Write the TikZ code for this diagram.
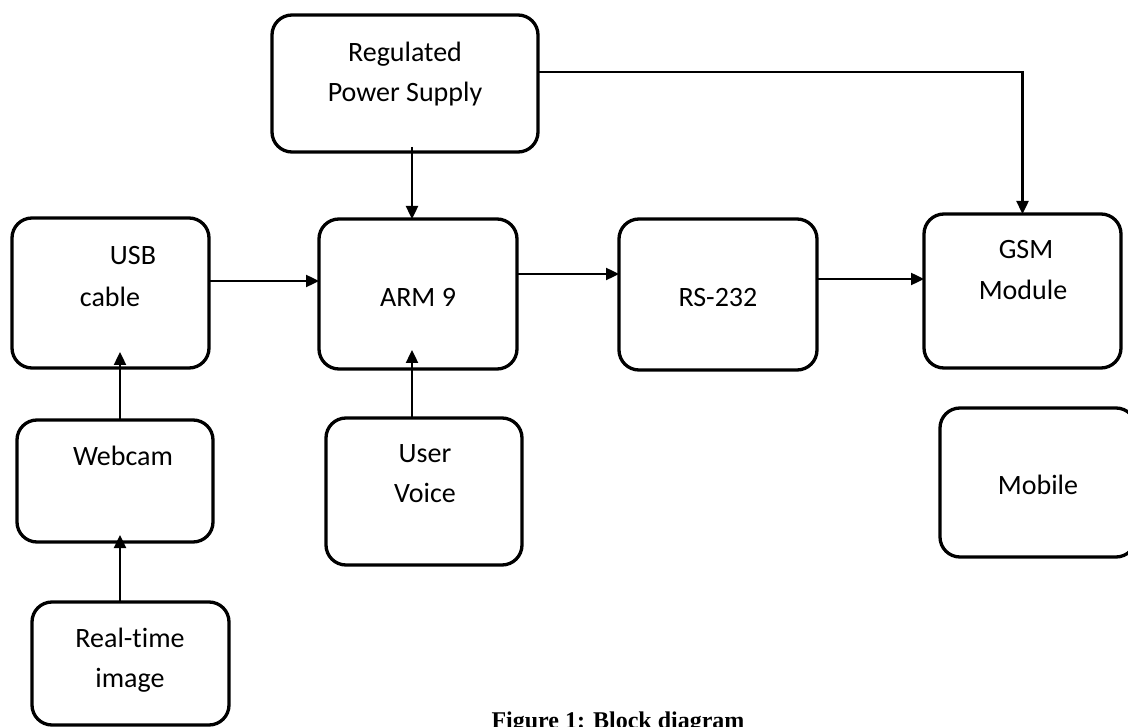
\documentclass[tikz,border=0pt]{standalone}
\usepackage{fontspec}
\setmainfont{Carlito}[Ligatures=NoCommon]
\newfontfamily\capfont{Liberation Serif}
\usetikzlibrary{arrows.meta,calc}
\tikzset{
  blk/.style={draw, line width=3.3pt, rounded corners=20pt, inner sep=0pt, outer sep=0pt},
  lbl/.style={anchor=base, inner sep=0pt, font=\fontsize{28}{34}\selectfont},
  arr/.style={line width=2.4pt, -{Triangle[length=13pt,width=12pt]}},
}
\begin{document}
\begin{tikzpicture}[x=1pt,y=-1pt]
\useasboundingbox (0,0) rectangle (1128,727);
\clip (0,0) rectangle (1128,727);
% boxes
\node[blk, minimum width=266pt, minimum height=137pt] (rps) at (405,83.5) {};
\node[blk, minimum width=198pt, minimum height=150pt] (arm) at (418,294) {};
\node[blk, minimum width=198pt, minimum height=151pt] (rs) at (718,294.5) {};
\node[blk, minimum width=197pt, minimum height=154pt] (gsm) at (1022.5,291) {};
\node[blk, minimum width=197pt, minimum height=150pt] (usb) at (110.5,293) {};
\node[blk, minimum width=196pt, minimum height=122pt] (cam) at (115,481) {};
\node[blk, minimum width=196pt, minimum height=147pt] (uv) at (424,491.5) {};
\node[blk, minimum width=196pt, minimum height=149pt] (mob) at (1038,482.5) {};
\node[blk, minimum width=197pt, minimum height=123pt] (rti) at (130.5,663.5) {};
% labels
\node[lbl] (t1) at (405,62) {Regulated};
\node[lbl] (t2) at (405,102) {Power Supply};
\node[lbl] (t3) at (133,265) {USB};
\node[lbl] (t4) at (110,307) {cable};
\node[lbl] (t5) at (418,307) {ARM 9};
\node[lbl] (t6) at (718,307) {RS-232};
\node[lbl] (t7) at (1026,259) {GSM};
\node[lbl] (t8) at (1023,300) {Module};
\node[lbl] (t9) at (1038,494) {Mobile};
\node[lbl] (t10) at (425,462) {User};
\node[lbl] (t11) at (425,502) {Voice};
\node[lbl] (t12) at (123,465) {Webcam};
\node[lbl] (t13) at (130,647) {Real-time};
\node[lbl] (t14) at (130,687) {image};
\node[anchor=base, inner sep=0pt, font=\capfont\bfseries\fontsize{24}{28}\selectfont] (cap) at (618,728) {Figure 1: Block diagram};
% connectors
\coordinate (p1) at ($(rps.south)+(7,-5)$);
\draw[arr] (p1) -- (p1 |- arm.north);
\coordinate (p2) at ($(rps.east)+(0,-11.5)$);
\draw[arr] (p2) -| (gsm.north);
\coordinate (p3) at ($(usb.east)+(0,-12)$);
\draw[arr] (p3) -- (p3 -| arm.west);
\coordinate (p4) at ($(arm.east)+(0,-20)$);
\draw[arr] (p4) -- (p4 -| rs.west);
\coordinate (p5) at ($(rs.east)+(0,-15.5)$);
\draw[arr] (p5) -- (p5 -| gsm.west);
\coordinate (p6) at ($(cam.north)+(5,0)$);
\coordinate (q6) at ($(usb.south)+(0,-16)$);
\draw[arr] (p6) -- (p6 |- q6);
\coordinate (p7) at ($(uv.north)+(-12,0)$);
\coordinate (q7) at ($(arm.south)+(0,-19)$);
\draw[arr] (p7) -- (p7 |- q7);
\coordinate (p8) at ($(rti.north)+(-10.5,0)$);
\coordinate (q8) at ($(cam.south)+(0,-7)$);
\draw[arr] (p8) -- (p8 |- q8);
\end{tikzpicture}
\end{document}
